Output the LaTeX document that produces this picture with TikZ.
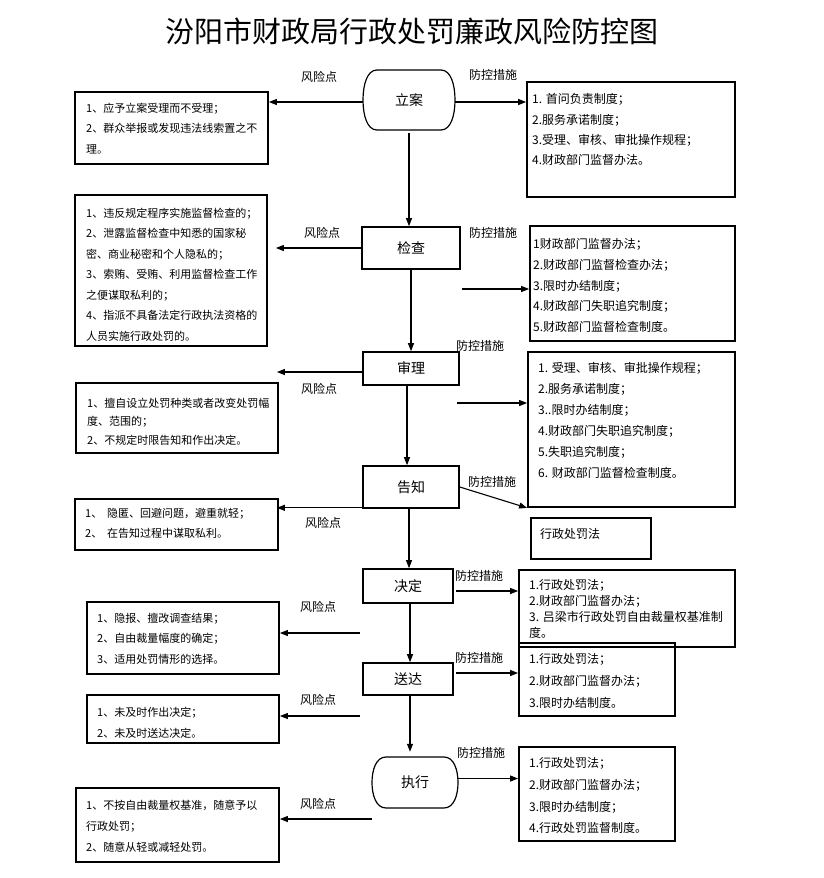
\documentclass[tikz,border=0pt]{standalone}
\usepackage{fontspec}
\setmainfont{Noto Sans CJK SC}
\usetikzlibrary{arrows.meta,calc}
\begin{document}
\begin{tikzpicture}[x=1pt,y=-1pt,
  arr/.style={-{Triangle[length=8pt,width=6pt]},line width=1.1pt},
  frame/.style={draw,line width=1.8pt,inner sep=0pt},
  mainbox/.style={draw,line width=1.6pt,inner sep=0pt,font=\fontsize{14}{16}\selectfont},
  ovalbox/.style={inner sep=0pt,font=\fontsize{14}{16}\selectfont},
  ovalline/.style={line width=1.2pt},
  ltext/.style={anchor=north west,inner sep=0pt,align=left},
  rtext/.style={anchor=north west,inner sep=0pt,align=left},
  lab/.style={inner sep=0pt,font=\fontsize{12}{14}\selectfont}
]
\useasboundingbox (0,0) rectangle (823,878);

% title
\node[inner sep=0pt,font=\fontsize{29}{32}\selectfont] (title) at (412,31) {汾阳市财政局行政处罚廉政风险防控图};

% main steps
\node[ovalbox,minimum width=92pt,minimum height=60pt] (lian) at (409,100) {立案};
\draw[ovalline] (377,70) -- (441,70) .. controls (451,70) and (455,85) .. (455,100)
  .. controls (455,115) and (451,130) .. (441,130) -- (377,130)
  .. controls (367,130) and (363,115) .. (363,100)
  .. controls (363,85) and (367,70) .. cycle;
\node[mainbox,minimum width=98pt,minimum height=42pt] (jc) at (411,248) {检查};
\node[mainbox,minimum width=96pt,minimum height=33pt] (sl) at (411,368.5) {审理};
\node[mainbox,minimum width=96pt,minimum height=42pt] (gz) at (411,487) {告知};
\node[mainbox,minimum width=90pt,minimum height=34pt] (jd) at (408,586) {决定};
\node[mainbox,minimum width=90pt,minimum height=32pt] (sd) at (408,679) {送达};
\node[ovalbox,minimum width=86pt,minimum height=51pt] (zx) at (415,782.5) {执行};
\draw[ovalline] (386,757) -- (444,757) .. controls (454,757) and (458,770) .. (458,782.5)
  .. controls (458,795) and (454,808) .. (444,808) -- (386,808)
  .. controls (376,808) and (372,795) .. (372,782.5)
  .. controls (372,770) and (376,757) .. cycle;

% left boxes (risk points)
\node[frame,minimum width=193pt,minimum height=72pt] (L1) at (171.5,128) {};
\node[frame,minimum width=192pt,minimum height=151pt] (L2) at (171,270.5) {};
\node[frame,minimum width=202pt,minimum height=70pt] (L3) at (177,418) {};
\node[frame,minimum width=203pt,minimum height=51pt] (L4) at (176.5,524.5) {};
\node[frame,minimum width=192pt,minimum height=72pt] (L5) at (183,638) {};
\node[frame,minimum width=192pt,minimum height=48pt] (L6) at (183,719) {};
\node[frame,minimum width=203pt,minimum height=74pt] (L7) at (177.5,825) {};

\node[ltext,font=\fontsize{11}{20.5}\selectfont] (t1) at (86,102.8) {1、应予立案受理而不受理；\\2、群众举报或发现违法线索置之不\\理。};
\node[ltext,font=\fontsize{11}{20.5}\selectfont] (t2) at (86,207.8) {1、违反规定程序实施监督检查的；\\2、泄露监督检查中知悉的国家秘\\密、商业秘密和个人隐私的；\\3、索贿、受贿、利用监督检查工作\\之便谋取私利的；\\4、指派不具备法定行政执法资格的\\人员实施行政处罚的。};
\node[ltext,font=\fontsize{11}{18.5}\selectfont] (t3) at (87,397.8) {1、擅自设立处罚种类或者改变处罚幅\\度、范围的；\\2、不规定时限告知和作出决定。};
\node[ltext,font=\fontsize{11}{20}\selectfont] (t4) at (85,507.8) {1、\ \ 隐匿、回避问题，避重就轻；\\2、\ \ 在告知过程中谋取私利。};
\node[ltext,font=\fontsize{11}{20.5}\selectfont] (t5) at (97,612.8) {1、隐报、擅改调查结果；\\2、自由裁量幅度的确定；\\3、适用处罚情形的选择。};
\node[ltext,font=\fontsize{11}{21}\selectfont] (t6) at (97,706.8) {1、未及时作出决定；\\2、未及时送达决定。};
\node[ltext,font=\fontsize{11}{21}\selectfont] (t7) at (86,799.8) {1、不按自由裁量权基准，随意予以\\行政处罚；\\2、随意从轻或减轻处罚。};

% right boxes (control measures)
\node[frame,minimum width=208pt,minimum height=115pt] (R1) at (631,139.5) {};
\node[frame,minimum width=205pt,minimum height=115pt] (R2) at (632.5,283.5) {};
\node[frame,minimum width=207pt,minimum height=155pt] (R3) at (631.5,429.5) {};
\node[frame,minimum width=120pt,minimum height=41pt] (RX) at (591,538.5) {};
\node[frame,minimum width=216pt,minimum height=77pt] (R5) at (627,608.5) {};
\node[frame,minimum width=156pt,minimum height=73pt] (R6) at (597,679.5) {};
\node[frame,minimum width=156pt,minimum height=94pt] (R7) at (597,794) {};

\node[rtext,font=\fontsize{12}{20.3}\selectfont] (s1) at (532,93.4) {1. 首问负责制度；\\2.服务承诺制度；\\3.受理、审核、审批操作规程；\\4.财政部门监督办法。};
\node[rtext,font=\fontsize{12}{20.75}\selectfont] (s2) at (533,238.4) {1财政部门监督办法；\\2.财政部门监督检查办法；\\3.限时办结制度；\\4.财政部门失职追究制度；\\5.财政部门监督检查制度。};
\node[rtext,font=\fontsize{12}{21}\selectfont] (s3) at (538,362.4) {1. 受理、审核、审批操作规程；\\2.服务承诺制度；\\3..限时办结制度；\\4.财政部门失职追究制度；\\5.失职追究制度；\\6. 财政部门监督检查制度。};
\node[rtext,font=\fontsize{12}{14}\selectfont] (sx) at (540,528.4) {行政处罚法};
\node[rtext,font=\fontsize{12}{16}\selectfont] (s5) at (529,579.4) {1.行政处罚法；\\2.财政部门监督办法；\\3. 吕梁市行政处罚自由裁量权基准制\\度。};
\node[rtext,font=\fontsize{12}{22}\selectfont] (s6) at (529,653.4) {1.行政处罚法；\\2.财政部门监督办法；\\3.限时办结制度。};
\node[rtext,font=\fontsize{12}{21.7}\selectfont] (s7) at (529,757.4) {1.行政处罚法；\\2.财政部门监督办法；\\3.限时办结制度；\\4.行政处罚监督制度。};

% labels
\node[lab] (f1) at (319,77) {风险点};
\node[lab] (f2) at (322,233) {风险点};
\node[lab] (f3) at (319,389) {风险点};
\node[lab] (f4) at (323,523) {风险点};
\node[lab] (f5) at (318,607) {风险点};
\node[lab] (f6) at (318,700) {风险点};
\node[lab] (f7) at (318,804) {风险点};
\node[lab] (k1) at (493,75) {防控措施};
\node[lab] (k2) at (493,233) {防控措施};
\node[lab] (k3) at (480,346) {防控措施};
\node[lab] (k4) at (492,482) {防控措施};
\node[lab] (k5) at (479,576) {防控措施};
\node[lab] (k6) at (479,658) {防控措施};
\node[lab] (k7) at (481,753) {防控措施};

% free connector ends
\coordinate (c2) at (462,289);
\coordinate (c3) at (457,403);
\coordinate (cjd) at (456,591);
\coordinate (csd) at (456,673);
\coordinate (c5) at (360,633);
\coordinate (c6) at (360,716);
\coordinate (c7) at (372,819);

% vertical flow
\draw[arr] ([yshift=-3pt]lian.south) -- (lian.south |- jc.north);
\draw[arr] (jc.south) -- (jc.south |- sl.north);
\draw[arr] ([xshift=-4pt]sl.south) -- ([xshift=-4pt]sl.south |- gz.north);
\draw[arr] ([xshift=-2pt]gz.south) -- ([xshift=-2pt]gz.south |- jd.north);
\draw[arr] ([xshift=2pt]jd.south) -- ([xshift=2pt]jd.south |- sd.north);
\draw[arr] ([xshift=2pt]sd.south) -- ([xshift=2pt,yshift=5pt]sd.south |- zx.north);

% risk arrows
\draw[arr] ([yshift=-2pt]lian.west) -- ([yshift=-2pt]lian.west -| L1.east);
\draw[arr,shorten >=8pt] (jc.west) -- (jc.west -| L2.east);
\draw[arr,shorten >=-2pt] ([yshift=-3.5pt]sl.west) -- ([yshift=-3.5pt]sl.west -| L3.east);
\draw[arr,shorten >=-2pt] ([yshift=1pt]gz.south west) -- ([yshift=1pt]gz.south west -| L4.east);
\draw[arr] (c5) -- (c5 -| L5.east);
\draw[arr] (c6) -- (c6 -| L6.east);
\draw[arr] (c7) -- (c7 -| L7.east);

% control arrows
\draw[arr] ([yshift=-2pt]lian.east) -- ([yshift=-2pt]lian.east -| R1.west);
\draw[arr] (c2) -- (c2 -| R2.west);
\draw[arr] (c3) -- (c3 -| R3.west);
\draw[arr] (gz.east) -- (R3.south west);
\draw[arr] (cjd) -- (cjd -| R5.west);
\draw[arr] (csd) -- (csd -| R6.west);
\draw[arr] ([yshift=4pt]zx.east) -- ([yshift=4pt]zx.east -| R7.west);
\end{tikzpicture}
\end{document}
